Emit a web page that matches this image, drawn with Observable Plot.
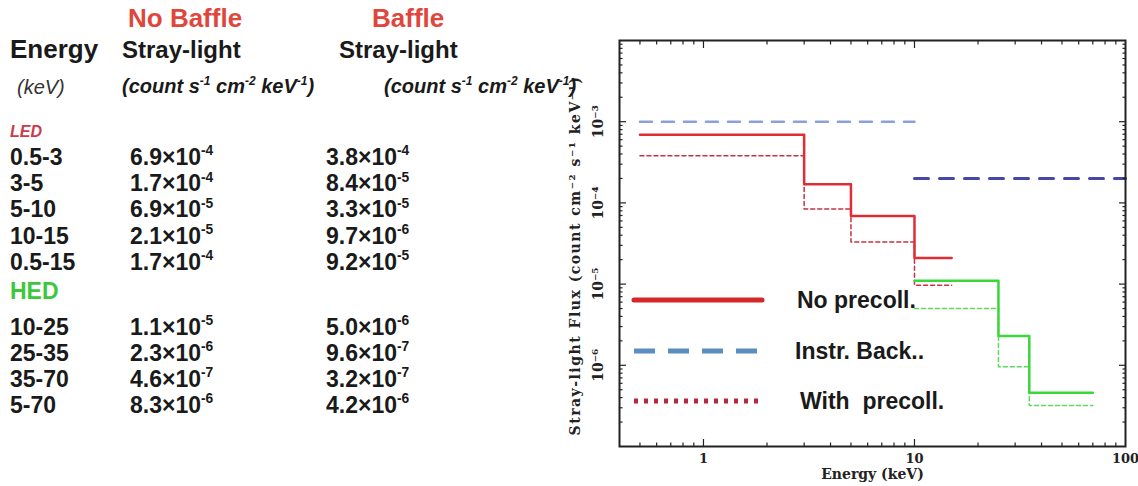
<!DOCTYPE html>
<html><head><meta charset="utf-8">
<script src="https://cdn.jsdelivr.net/npm/d3@7"></script>
<script src="https://cdn.jsdelivr.net/npm/@observablehq/plot@0.6"></script>
<style>
body{margin:0;background:#fff;}
#wrap{position:relative;width:1138px;height:486px;overflow:hidden;background:#fff;}
#wrap svg{position:absolute;left:0;top:0;}
</style></head><body><div id="wrap"></div>
<script>
// ---- data ----
const ledEdges = [0.5, 3, 5, 10, 15];
const ledNoBaffle = [6.9e-4, 1.7e-4, 6.9e-5, 2.1e-5];
const ledBaffle = [3.8e-4, 8.4e-5, 3.3e-5, 9.7e-6];
const ledTotal = [1.7e-4, 9.2e-5];
const ledLabels = ["0.5-3", "3-5", "5-10", "10-15", "0.5-15"];

const hedEdges = [10, 25, 35, 70];
const hedNoBaffle = [1.1e-5, 2.3e-6, 4.6e-7];
const hedBaffle = [5.0e-6, 9.6e-7, 3.2e-7];
const hedTotal = [8.3e-6, 4.2e-6];
const hedLabels = ["10-25", "25-35", "35-70", "5-70"];

const bkgLow = [0.5, 10];
const bkgHigh = [10, 100];
const bkgLevel = [1e-3, 2e-4];

const xMajor = [1, 10];
const xLabels = [1, 10, 100];
const yMajor = [1e-6, 1e-5, 1e-4, 1e-3];
const yLabelExps = [-6, -5, -4, -3];
const legendLabels = ["No precoll.", "Instr. Back..", "With  precoll."];

// ---- helpers ----
function steps(edges, values) {
  const pts = values.map((v, i) => ({x: edges[i], y: v}));
  pts.push({x: edges[edges.length - 1], y: values[values.length - 1]});
  return pts;
}
const xMinor = [], yMinor = [];
for (const d of [0.1, 1, 10]) for (let m = 2; m <= 9; m++) { const v = m * d; if (v > 0.4 && v < 100) xMinor.push(v); }
for (let e = -7; e <= -3; e++) for (let m = 2; m <= 9; m++) yMinor.push(m * Math.pow(10, e));
const supMap = {"-": "⁻", "0": "⁰", "1": "¹", "2": "²", "3": "³", "4": "⁴", "5": "⁵", "6": "⁶", "7": "⁷", "8": "⁸", "9": "⁹"};
const sup = s => String(s).split("").map(c => supMap[c]).join("");

const tick = (fn, data, anchor, size) => fn(data, {anchor, tickSize: -size, fill: "none", label: null, stroke: "#222", strokeWidth: 1.2});

const bkgSegs = bkgLow.map((lo, i) => [{x: lo, y: bkgLevel[i]}, {x: bkgHigh[i], y: bkgLevel[i]}]);

const plot = Plot.plot({
  width: 1138, height: 486,
  marginLeft: 619, marginRight: 13, marginTop: 40, marginBottom: 40,
  style: {fontFamily: "'DejaVu Serif', serif", fontWeight: "bold", fontSize: "13px", background: "transparent", color: "#222"},
  x: {type: "log", domain: [0.4, 100]},
  y: {type: "log", domain: [1e-7, 1e-2]},
  marks: [
    Plot.line(bkgSegs[0], {x: "x", y: "y", stroke: "#8d9fd8", strokeWidth: 2.5, strokeDasharray: "12,10"}),
    Plot.line(bkgSegs[1], {x: "x", y: "y", stroke: "#4747a8", strokeWidth: 3, strokeDasharray: "14,11"}),
    Plot.line(steps(ledEdges, ledBaffle), {x: "x", y: "y", curve: "step-after", stroke: "#c23444", strokeWidth: 1.5, strokeDasharray: "4,3"}),
    Plot.line(steps(ledEdges, ledNoBaffle), {x: "x", y: "y", curve: "step-after", stroke: "#e02c34", strokeWidth: 2.5}),
    Plot.line(steps(hedEdges, hedBaffle), {x: "x", y: "y", curve: "step-after", stroke: "#5fd85f", strokeWidth: 1.5, strokeDasharray: "4,3"}),
    Plot.line(steps(hedEdges, hedNoBaffle), {x: "x", y: "y", curve: "step-after", stroke: "#3ad63a", strokeWidth: 2.5}),
    tick(Plot.axisX, xMajor, "bottom", 7),
    tick(Plot.axisX, xMinor, "bottom", 3.5),
    tick(Plot.axisX, xMajor, "top", 7),
    tick(Plot.axisX, xMinor, "top", 3.5),
    tick(Plot.axisY, yMajor, "left", 7),
    tick(Plot.axisY, yMinor, "left", 3.5),
    tick(Plot.axisY, yMajor, "right", 7),
    tick(Plot.axisY, yMinor, "right", 3.5),
    Plot.frame({stroke: "#222", strokeWidth: 2}),
    Plot.text(xLabels, {x: d => d, text: d => String(d), frameAnchor: "bottom", dy: 16}),
    Plot.text(yMajor, {y: d => d, text: (d, i) => "10" + sup(yLabelExps[i]), frameAnchor: "left", textAnchor: "middle", dx: -21, rotate: -90, fontSize: 14}),
    Plot.text(["Energy (keV)"], {frameAnchor: "bottom", dy: 32, fontSize: 14, text: d => d}),
    Plot.text(["Stray-light Flux (count cm" + sup(-2) + " s" + sup(-1) + " keV" + sup(-1) + ")"],
      {frameAnchor: "left", textAnchor: "middle", dx: -44, dy: 12, rotate: -90, fontSize: 14, text: d => d})
  ]
});
const wrap = document.getElementById("wrap");
wrap.appendChild(plot);
d3.select(plot).selectAll("text").filter(function () { return this.textContent.startsWith("Stray"); })
  .style("letter-spacing", "1.5px");

// ---- overlay: table + legend ----
const svg = d3.select(wrap).append("svg").attr("width", 1138).attr("height", 486)
  .style("font-family", "'Liberation Sans', Arial, sans-serif");

function txt(x, y, parts, {size = 23, weight = "bold", style = "normal", fill = "#1a1a1a"} = {}) {
  const t = svg.append("text").attr("x", x).attr("y", y)
    .attr("font-size", size).attr("font-weight", weight).attr("font-style", style).attr("fill", fill);
  let raised = false;
  for (const [s, isSup] of parts) {
    const sp = t.append("tspan").text(s);
    if (isSup) { sp.attr("font-size", size * 0.6).attr("dy", -size * 0.42); raised = true; }
    else if (raised) { sp.attr("dy", size * 0.42); raised = false; }
  }
  return t;
}
function sci(v) {
  const [m, e] = v.toExponential(1).split("e");
  return [[m + "×10", false], [String(+e), true]];
}
const units = [["(count s", false], ["-1", true], [" cm", false], ["-2", true], [" keV", false], ["-1", true], [")", false]];

txt(128, 27, [["No Baffle", false]], {size: 26, fill: "#e0463c"});
txt(372, 27, [["Baffle", false]], {size: 26, fill: "#e0463c"});
txt(10, 58, [["Energy", false]], {size: 26});
txt(122, 58, [["Stray-light", false]], {size: 24});
txt(339, 58, [["Stray-light", false]], {size: 24});
txt(17, 94, [["(keV)", false]], {size: 20, weight: "normal", style: "italic", fill: "#333"});
txt(122, 93, units, {size: 20, style: "italic"});
txt(384, 93, units, {size: 20, style: "italic"});
txt(10, 137, [["LED", false]], {size: 16, style: "italic", fill: "#cc3a4a"});
txt(10, 299, [["HED", false]], {size: 23, fill: "#3cc83c"});

const ledNB = ledNoBaffle.concat([ledTotal[0]]), ledB = ledBaffle.concat([ledTotal[1]]);
ledLabels.forEach((lab, i) => {
  const y = 165 + i * 26.2;
  txt(10, y, [[lab, false]]);
  txt(130, y, sci(ledNB[i]));
  txt(326, y, sci(ledB[i]));
});
const hedNB = hedNoBaffle.concat([hedTotal[0]]), hedB = hedBaffle.concat([hedTotal[1]]);
hedLabels.forEach((lab, i) => {
  const y = 335 + i * 26;
  txt(10, y, [[lab, false]]);
  txt(130, y, sci(hedNB[i]));
  txt(326, y, sci(hedB[i]));
});

// legend
const legStyles = [
  {stroke: "#d42828", dash: null, cap: "round"},
  {stroke: "#5a8ec0", dash: "21,13", cap: "butt"},
  {stroke: "#b8283c", dash: "4,6", cap: "butt"}
];
const legY = [300, 351, 401];
const legTextX = [797, 795, 800];
legendLabels.forEach((lab, i) => {
  const s = legStyles[i];
  const l = svg.append("line").attr("x1", 634).attr("x2", 762).attr("y1", legY[i]).attr("y2", legY[i])
    .attr("stroke", s.stroke).attr("stroke-width", 5).attr("stroke-linecap", s.cap);
  if (s.dash) l.attr("stroke-dasharray", s.dash);
  txt(legTextX[i], legY[i] + 8, [[lab, false]], {size: 23}).attr("xml:space", "preserve").style("white-space", "pre");
});
</script></body></html>
